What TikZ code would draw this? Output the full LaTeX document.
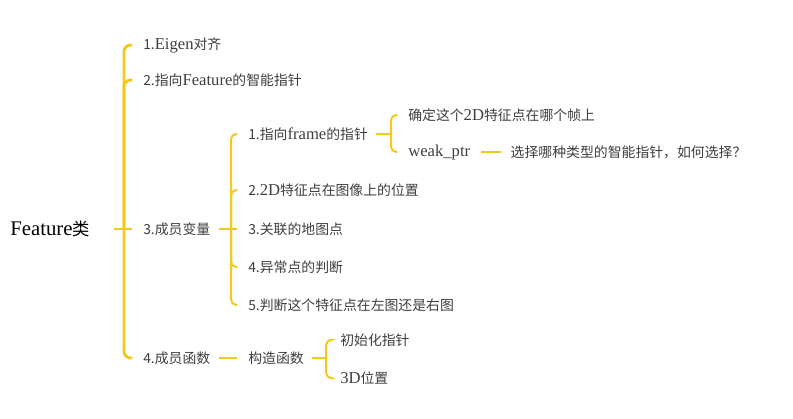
\documentclass[tikz,border=0pt]{standalone}
\usepackage{fontspec}
\setmainfont{Noto Sans CJK SC}
\newfontfamily\latinserif[Scale=1.2]{Liberation Serif}
\newcommand{\en}[1]{{\latinserif #1}}
\usepackage{tikz}
\usetikzlibrary{positioning,calc}
\definecolor{branchyellow}{RGB}{243, 201, 30}
\definecolor{textgray}{RGB}{62, 62, 62}

\begin{document}
\begin{tikzpicture}[x=0.75pt, y=-0.75pt,
    topic/.style={anchor=west, inner sep=0pt, text=textgray, font=\fontsize{10.4}{12}\selectfont},
    root/.style={anchor=west, inner sep=0pt, text=black, font=\fontsize{13}{15}\selectfont},
    trunk/.style={draw=branchyellow, line width=2.2pt, rounded corners=5pt},
    twig/.style={draw=branchyellow, line width=1.5pt, rounded corners=4pt}
]
    \useasboundingbox (0,0) rectangle (793,418);

    % main topic
    \node[root] (feat) at (10,229) {\en{Feature}类};

    % first level
    \node[topic] (eigen) at (143,45) {1.\en{Eigen}对齐};
    \node[topic] (smart) at (143,80) {2.指向\en{Feature}的智能指针};
    \node[topic] (member) at (143,229) {3.成员变量};
    \node[topic] (func) at (143,358) {4.成员函数};

    % member variables
    \node[topic] (frameptr) at (248,134) {1.指向\en{frame}的指针};
    \node[topic] (pos2d) at (248,190) {2.\en{2D}特征点在图像上的位置};
    \node[topic] (mappt) at (248,229) {3.关联的地图点};
    \node[topic] (outlier) at (248,267) {4.异常点的判断};
    \node[topic] (leftright) at (248,305) {5.判断这个特征点在左图还是右图};

    \node[topic] (whichframe) at (408,115) {确定这个\en{2D}特征点在哪个帧上};
    \node[topic] (weak) at (408,152) {\en{weak\_ptr}};
    \node[topic, right=40 of weak] (choose) {选择哪种类型的智能指针，如何选择？};

    % member functions
    \node[topic] (ctor) at (248,358) {构造函数};
    \node[topic] (initptr) at (340,340) {初始化指针};
    \node[topic] (pos3d) at (340,378) {\en{3D}位置};

    % junctions
    \coordinate (j0) at (124,229);
    \coordinate (j1) at (231,229);
    \coordinate (j2) at (391,134);
    \coordinate (j3) at (326,358);

    \draw[trunk] ([xshift=18]feat.east) -- ([xshift=-8]member.west);
    \foreach \t in {eigen, smart, func}
        \draw[trunk] (j0) |- ([xshift=-8]\t.west);

    \draw[twig] ([xshift=6]member.east) -- ([xshift=-8]mappt.west);
    \foreach \t in {frameptr, pos2d, outlier, leftright}
        \draw[twig] (j1) |- ([xshift=-8]\t.west);

    \draw[twig] ([xshift=6]frameptr.east) -- (j2);
    \foreach \t in {whichframe, weak}
        \draw[twig] (j2) |- ([xshift=-8]\t.west);

    \draw[twig] ([xshift=8]weak.east) -- ([xshift=-7]choose.west);

    \draw[twig] ([xshift=6]func.east) -- ([xshift=-8]ctor.west);
    \draw[twig] ([xshift=6]ctor.east) -- (j3);
    \foreach \t in {initptr, pos3d}
        \draw[twig] (j3) |- ([xshift=-8]\t.west);

\end{tikzpicture}
\end{document}
